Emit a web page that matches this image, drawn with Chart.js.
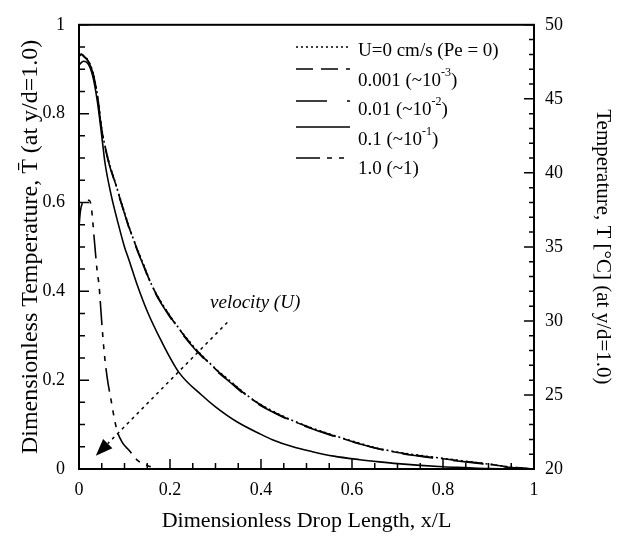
<!DOCTYPE html>
<html>
<head>
<meta charset="utf-8">
<script src="https://cdn.jsdelivr.net/npm/chart.js@4/dist/chart.umd.min.js"></script>
<style>
html,body{margin:0;padding:0;background:#fff;}
#wrap{width:626px;height:542px;position:relative;}
</style>
</head>
<body>
<div id="wrap"><canvas id="c" width="626" height="542"></canvas></div>
<script>
// ---- data ----
const xUpper = [0, 0.005, 0.01, 0.02, 0.03, 0.04, 0.05, 0.06, 0.066, 0.08, 0.09, 0.1, 0.11, 0.13, 0.14, 0.16, 0.2, 0.25, 0.3, 0.33, 0.38, 0.45, 0.5, 0.55, 0.6, 0.66, 0.7, 0.8, 0.9, 0.95, 1];
const yU0    = [0.93, 0.935, 0.93, 0.92, 0.895, 0.845, 0.765, 0.715, 0.69, 0.644, 0.61, 0.578, 0.545, 0.49, 0.465, 0.414, 0.345, 0.278, 0.226, 0.2, 0.158, 0.118, 0.097, 0.079, 0.063, 0.046, 0.038, 0.024, 0.011, 0.004, 0];
const yU0001 = [0.93, 0.934, 0.93, 0.919, 0.894, 0.844, 0.764, 0.714, 0.689, 0.643, 0.609, 0.577, 0.544, 0.489, 0.464, 0.413, 0.344, 0.277, 0.225, 0.199, 0.157, 0.117, 0.096, 0.078, 0.062, 0.045, 0.037, 0.023, 0.011, 0.004, 0];
const yU001  = [0.929, 0.933, 0.929, 0.918, 0.893, 0.842, 0.762, 0.712, 0.687, 0.641, 0.607, 0.575, 0.542, 0.487, 0.462, 0.411, 0.342, 0.275, 0.223, 0.197, 0.155, 0.116, 0.095, 0.077, 0.061, 0.045, 0.036, 0.022, 0.01, 0.003, 0];

const xLower = [0, 0.01, 0.02, 0.03, 0.04, 0.05, 0.057, 0.07, 0.088, 0.1, 0.11, 0.128, 0.15, 0.18, 0.22, 0.27, 0.3, 0.346, 0.4, 0.425, 0.47, 0.513, 0.56, 0.617, 0.66, 0.7, 0.8, 0.85, 0.9, 1];
const yU01   = [0.91, 0.918, 0.912, 0.885, 0.83, 0.75, 0.69, 0.62, 0.545, 0.5, 0.47, 0.414, 0.355, 0.29, 0.217, 0.166, 0.14, 0.107, 0.078, 0.066, 0.05, 0.039, 0.029, 0.021, 0.016, 0.012, 0.005, 0.003, 0.001, 0];

const xSteep = [0, 0.003, 0.008, 0.015, 0.022, 0.027, 0.03, 0.035, 0.04, 0.044, 0.05, 0.055, 0.062, 0.07, 0.078, 0.084, 0.095, 0.11, 0.128, 0.15, 0.176];
const yU1    = [0.545, 0.58, 0.6, 0.605, 0.605, 0.59, 0.56, 0.5, 0.445, 0.414, 0.33, 0.267, 0.205, 0.158, 0.112, 0.085, 0.06, 0.042, 0.02, 0.008, 0];

const seriesNames = ['U=0 cm/s (Pe = 0)', '0.001 (~10', '0.01 (~10', '0.1 (~10', '1.0 (~1)'];
const seriesSup   = ['', '-3', '-2', '-1', ''];
const seriesTail  = ['', ')', ')', ')', ''];

const xTickLabels  = ['0', '0.2', '0.4', '0.6', '0.8', '1'];
const yTickLabels  = ['0', '0.2', '0.4', '0.6', '0.8', '1'];
const y2TickLabels = ['20', '25', '30', '35', '40', '45', '50'];

const arrowFrom = {x: 0.326, y: 0.33};
const arrowTo   = {x: 0.037, y: 0.03};
const arrowText = 'velocity (U)';
const arrowTextPos = {x: 0.288, y: 0.363};

// ---- build ----
const pts = (xs, ys) => xs.map((v, i) => ({x: v, y: ys[i]}));
const dashes = [[2, 3], [17, 8], [31, 20], [], [24, 7, 5, 7, 5, 7, 5, 7]];
const seriesData = [pts(xUpper, yU0), pts(xUpper, yU0001), pts(xUpper, yU001), pts(xLower, yU01), pts(xSteep, yU1)];

const FONT = "'Liberation Serif', 'Times New Roman', serif";
Chart.defaults.font.family = FONT;
Chart.defaults.color = '#000';

const extras = {
  id: 'extras',
  afterDraw(chart) {
    const {ctx, chartArea: a, scales} = chart;
    const X = scales.x, Y = scales.y, Y2 = scales.y2;
    ctx.save();
    ctx.strokeStyle = '#000';
    ctx.fillStyle = '#000';
    // frame
    ctx.lineWidth = 2;
    ctx.setLineDash([]);
    ctx.strokeRect(a.left, a.top, a.right - a.left, a.bottom - a.top);
    // inward ticks
    ctx.lineWidth = 1.5;
    ctx.beginPath();
    for (let i = 0; i <= 20; i++) {
      const p = X.getPixelForValue(i * 0.05);
      const L = i % 4 === 0 ? 10 : 6;
      ctx.moveTo(p, a.bottom); ctx.lineTo(p, a.bottom - L);
    }
    for (let i = 0; i <= 20; i++) {
      const p = Y.getPixelForValue(i * 0.05);
      const L = i % 4 === 0 ? 10 : 6;
      ctx.moveTo(a.left, p); ctx.lineTo(a.left + L, p);
    }
    for (let v = 20; v <= 50; v++) {
      const p = Y2.getPixelForValue(v);
      const L = v % 5 === 0 ? 10 : 5;
      ctx.moveTo(a.right, p); ctx.lineTo(a.right - L, p);
    }
    ctx.stroke();

    // legend
    const lx0 = 296, lx1 = 350, tx = 358;
    const base = [56, 86, 115, 145, 174];
    const lineOff = [9, 17, 14, 18, 16];
    chart.data.datasets.forEach((ds, i) => {
      ctx.save();
      ctx.lineWidth = 1.6;
      ctx.setLineDash(ds.borderDash || []);
      ctx.beginPath();
      const ly = base[i] - lineOff[i];
      ctx.moveTo(lx0, ly); ctx.lineTo(lx1, ly);
      ctx.stroke();
      ctx.restore();
      ctx.font = '19px ' + FONT;
      ctx.textBaseline = 'alphabetic';
      ctx.textAlign = 'left';
      ctx.fillText(seriesNames[i], tx, base[i]);
      let w = ctx.measureText(seriesNames[i]).width;
      if (seriesSup[i]) {
        ctx.font = '12px ' + FONT;
        ctx.fillText(seriesSup[i], tx + w, base[i] - 10);
        w += ctx.measureText(seriesSup[i]).width;
        ctx.font = '19px ' + FONT;
        ctx.fillText(seriesTail[i], tx + w, base[i]);
      }
    });

    // velocity arrow
    const fx = X.getPixelForValue(arrowFrom.x), fy = Y.getPixelForValue(arrowFrom.y);
    const ex = X.getPixelForValue(arrowTo.x), ey = Y.getPixelForValue(arrowTo.y);
    const ang = Math.atan2(ey - fy, ex - fx);
    const hl = 17, hw = 6.5;
    const bx = ex - hl * Math.cos(ang), by = ey - hl * Math.sin(ang);
    ctx.lineWidth = 1.5;
    ctx.setLineDash([3, 4]);
    ctx.beginPath();
    ctx.moveTo(fx, fy); ctx.lineTo(bx, by);
    ctx.stroke();
    ctx.setLineDash([]);
    ctx.beginPath();
    ctx.moveTo(ex, ey);
    ctx.lineTo(bx + hw * Math.sin(ang), by - hw * Math.cos(ang));
    ctx.lineTo(bx - hw * Math.sin(ang), by + hw * Math.cos(ang));
    ctx.closePath();
    ctx.fill();
    ctx.font = 'italic 19px ' + FONT;
    ctx.textAlign = 'left';
    ctx.fillText(arrowText, X.getPixelForValue(arrowTextPos.x), Y.getPixelForValue(arrowTextPos.y));
    ctx.restore();
  }
};

new Chart(document.getElementById('c'), {
  type: 'line',
  data: {
    datasets: seriesData.map((d, i) => ({
      label: seriesNames[i] + seriesSup[i] + seriesTail[i],
      data: d,
      borderColor: '#000',
      backgroundColor: '#000',
      borderWidth: 1.6,
      borderDash: dashes[i],
      pointRadius: 0,
      fill: false,
      cubicInterpolationMode: 'monotone',
      yAxisID: 'y'
    }))
  },
  options: {
    responsive: false,
    animation: false,
    devicePixelRatio: 1,
    layout: {padding: {top: 12, left: 0, right: 0, bottom: 0}},
    plugins: {legend: {display: false}, tooltip: {enabled: false}},
    scales: {
      x: {
        type: 'linear', min: 0, max: 1,
        grid: {display: false, drawTicks: false},
        border: {display: false},
        ticks: {stepSize: 0.2, padding: 10, font: {size: 18}, color: '#000', maxRotation: 0,
                callback: (v, i) => xTickLabels[i]},
        title: {display: true, text: 'Dimensionless Drop Length, x/L', font: {size: 22}, color: '#000',
                padding: {top: 0, bottom: 8}},
        afterFit(s) { s.height = 73; }
      },
      y: {
        type: 'linear', position: 'left', min: 0, max: 1,
        grid: {display: false, drawTicks: false},
        border: {display: false},
        ticks: {stepSize: 0.2, padding: 14, font: {size: 18}, color: '#000',
                callback: (v, i) => yTickLabels[i]},
        title: {display: true, text: 'Dimensionless Temperature, T\u0304 (at y/d=1.0)', font: {size: 24}, color: '#000',
                padding: {top: 16, bottom: 0}},
        afterFit(s) { s.width = 79; }
      },
      y2: {
        type: 'linear', position: 'right', min: 20, max: 50,
        grid: {display: false, drawTicks: false},
        border: {display: false},
        ticks: {stepSize: 5, padding: 11, font: {size: 18}, color: '#000',
                callback: (v, i) => y2TickLabels[i]},
        title: {display: true, text: 'Temperature, T [\u00B0C] (at y/d=1.0)', font: {size: 21}, color: '#000',
                padding: {top: 11, bottom: 0}},
        afterFit(s) { s.width = 92; }
      }
    }
  },
  plugins: [extras]
});
</script>
</body>
</html>
